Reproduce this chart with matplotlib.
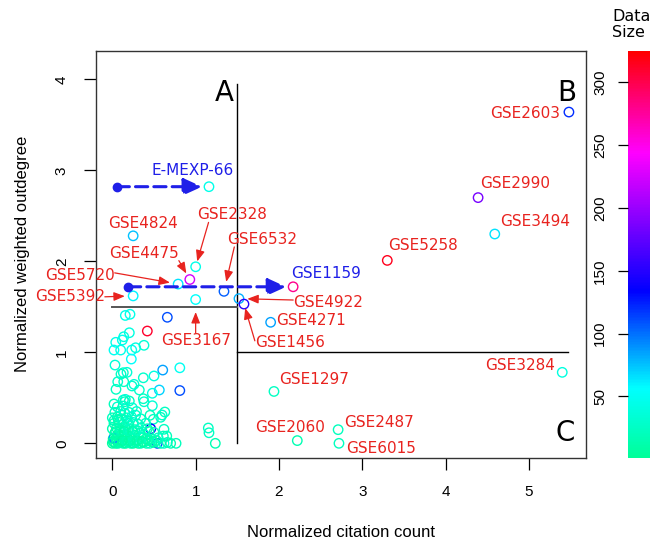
"""Citation count vs weighted outdegree scatter, coloured by data size."""

import matplotlib

matplotlib.use("Agg")
import matplotlib.pyplot as plt
from matplotlib.cm import ScalarMappable
from matplotlib.colors import LinearSegmentedColormap, Normalize

# labelled datasets
named_ids = [
    "GSE2603", "GSE2990", "GSE3494", "GSE5258", "GSE1159", "E-MEXP-66",
    "GSE4824", "GSE2328", "GSE4475", "GSE5720", "GSE5392", "GSE6532",
    "GSE3167", "GSE4922", "GSE1456", "GSE4271", "GSE1297", "GSE2060",
    "GSE2487", "GSE6015", "GSE3284",
]
named_citation = [5.48, 4.39, 4.59, 3.30, 2.17, 1.16, 0.25, 1.00, 0.93, 0.79, 0.25,
                  1.34, 1.00, 1.52, 1.58, 1.90, 1.94, 2.22, 2.71, 2.72, 5.40]
named_outdegree = [3.64, 2.70, 2.30, 2.01, 1.72, 2.82, 2.28, 1.94, 1.80, 1.75, 1.62,
                   1.67, 1.58, 1.59, 1.53, 1.33, 0.57, 0.03, 0.15, 0.00, 0.78]
named_size = [120, 185, 65, 315, 280, 45, 75, 45, 225, 65, 60,
              105, 55, 80, 150, 85, 25, 15, 22, 22, 40]

# datasets shown with their earlier position (dashed arrows)
moved_ids = ["E-MEXP-66", "GSE1159"]
moved_from_citation = [0.058, 0.194]

# unlabelled datasets
other_citation = [
    0.156, 0.212, 0.66, 0.42, 0.204, 0.137, 0.12, 0.041, 0.02, 0.10, 0.233, 0.28,
    0.228, 0.38, 0.032, 0.132, 0.176, 0.104, 0.605, 0.81, 0.50, 0.372, 0.065, 0.137,
    0.236, 0.26, 0.324, 0.564, 0.81, 0.044, 0.48, 0.132, 0.156, 0.149, 0.204, 0.02,
    0.372, 0.38, 0.48, 0.63, 0.597, 0.58, 0.452, 0.492, 0.461, 0.62, 0.612, 0.653,
    0.765, 1.152, 1.16, 1.236, 0.54,
    0.00, 0.02, 0.04, 0.07, 0.10, 0.13, 0.16, 0.19, 0.22, 0.25, 0.28, 0.31, 0.34,
    0.37, 0.41, 0.45, 0.50, 0.58, 0.62, 0.66, 0.70,
    0.01, 0.05, 0.09, 0.14, 0.18, 0.23, 0.29, 0.35, 0.40, 0.47, 0.55, 0.02,
    0.03, 0.07, 0.12, 0.16, 0.21, 0.26, 0.33, 0.38, 0.50,
    0.00, 0.05, 0.10, 0.15, 0.20, 0.27, 0.35, 0.42,
    0.02, 0.08, 0.13, 0.19, 0.25, 0.31, 0.40,
    0.00, 0.06, 0.11, 0.17, 0.23, 0.34,
    0.03, 0.10, 0.15, 0.20, 0.29,
    0.06, 0.13, 0.24,
    0.01, 0.05, 0.08, 0.12, 0.17, 0.21, 0.26, 0.30, 0.36, 0.43, 0.48, 0.53,
    0.04, 0.09, 0.14, 0.19, 0.24, 0.30, 0.44,
    0.02, 0.07, 0.18, 0.28,
]
other_outdegree = [
    1.405, 1.418, 1.385, 1.234, 1.215, 1.171, 1.135, 1.11, 1.025, 1.025, 1.025, 1.05,
    0.926, 1.077, 0.86, 0.776, 0.78, 0.76, 0.805, 0.83, 0.74, 0.72, 0.677, 0.677,
    0.63, 0.648, 0.586, 0.586, 0.58, 0.593, 0.55, 0.476, 0.483, 0.457, 0.465, 0.432,
    0.49, 0.457, 0.413, 0.344, 0.311, 0.286, 0.308, 0.264, 0.16, 0.154, 0.08, 0.08,
    0.0, 0.168, 0.116, 0.0, 0.0,
    0.00, 0.01, 0.00, 0.00, 0.01, 0.00, 0.00, 0.01, 0.00, 0.00, 0.01, 0.00, 0.00,
    0.01, 0.00, 0.00, 0.01, 0.00, 0.00, 0.01, 0.00,
    0.05, 0.06, 0.04, 0.05, 0.06, 0.05, 0.04, 0.06, 0.05, 0.05, 0.06, 0.06,
    0.11, 0.10, 0.12, 0.10, 0.11, 0.09, 0.11, 0.10, 0.12,
    0.16, 0.17, 0.15, 0.17, 0.16, 0.15, 0.17, 0.16,
    0.22, 0.23, 0.21, 0.22, 0.23, 0.21, 0.22,
    0.28, 0.29, 0.27, 0.28, 0.29, 0.27,
    0.34, 0.35, 0.33, 0.34, 0.35,
    0.40, 0.41, 0.39,
    0.02, 0.03, 0.02, 0.03, 0.02, 0.03, 0.02, 0.03, 0.02, 0.03, 0.02, 0.03,
    0.13, 0.14, 0.13, 0.14, 0.13, 0.14, 0.13,
    0.25, 0.26, 0.25, 0.31,
]
other_size = [
    45, 45, 110, 310, 40, 40, 45, 45, 50, 45, 50, 40,
    55, 35, 35, 30, 35, 25, 85, 50, 40, 30, 30, 25,
    30, 35, 30, 70, 110, 25, 40, 30, 35, 25, 25, 20,
    25, 30, 35, 25, 30, 25, 20, 25, 135, 25, 20, 20,
    20, 25, 25, 15, 110,
    8, 12, 6, 15, 10, 18, 7, 12, 20, 9, 14, 6, 22,
    11, 16, 25, 13, 18, 30, 20, 15,
    10, 14, 8, 20, 11, 16, 9, 24, 13, 19, 28, 90,
    12, 7, 18, 10, 22, 14, 17, 26, 21,
    15, 9, 20, 12, 25, 16, 28, 19,
    18, 11, 24, 15, 30, 20, 27,
    22, 14, 26, 19, 32, 24,
    25, 18, 30, 22, 28,
    30, 24, 34,
    6, 9, 12, 5, 14, 8, 17, 10, 7, 13, 11, 16,
    10, 15, 8, 19, 12, 22, 14,
    20, 16, 23, 27,
]

size_min, size_max = 1, 325
colorbar_ticks = [50, 100, 150, 200, 250, 300]

# label placement: text centre (data units), arrow start on text box, shrink at point
label_place = {
    "GSE2603": (4.95, 3.62, None), "GSE2990": (4.84, 2.85, None),
    "GSE3494": (5.07, 2.44, None), "GSE5258": (3.73, 2.17, None),
    "GSE1159": (2.57, 1.87, None), "E-MEXP-66": (0.96, 3.00, None),
    "GSE4824": (0.37, 2.42, None), "GSE4271": (2.38, 1.355, None),
    "GSE1297": (2.42, 0.70, None), "GSE2060": (2.13, 0.17, None),
    "GSE2487": (3.20, 0.226, None), "GSE6015": (3.22, -0.055, None),
    "GSE3284": (4.89, 0.86, None),
    "GSE2328": (1.44, 2.51, (0.16, 0.0, 4)), "GSE4475": (0.38, 2.09, (1.0, 0.0, 5)),
    "GSE6532": (1.80, 2.24, (0.1, 0.0, 7)), "GSE5720": (-0.39, 1.84, (1.0, 0.7, 6)),
    "GSE5392": (-0.51, 1.61, (1.0, 0.5, 6)), "GSE4922": (2.59, 1.55, (0.0, 0.65, 6)),
    "GSE1456": (2.13, 1.11, (0.0, 0.6, 3)), "GSE3167": (1.0, 1.13, (0.5, 1.0, 9)),
}

cmap = LinearSegmentedColormap.from_list(
    "datasize",
    [(0.0, (0.0, 1.0, 0.6)), (0.17, (0.0, 1.0, 1.0)), (0.41, (0.0, 0.0, 1.0)),
     (0.75, (1.0, 0.0, 1.0)), (1.0, (1.0, 0.0, 0.0))],
)
norm = Normalize(vmin=size_min, vmax=size_max)

RED = "#e8231f"
BLUE = "#1f1fe8"
TICK_FONT = "Liberation Sans"
LABEL_FONT = "DejaVu Sans"

fig = plt.figure(figsize=(6.52, 5.42), dpi=100)
ax = fig.add_axes([96 / 652, 1 - 457.7 / 542, 490 / 652, 406.7 / 542])

# quadrant guides
ax.plot([1.5, 1.5], [0, 3.95], color="black", lw=1.0)
ax.plot([1.5, 5.47], [1.0, 1.0], color="black", lw=1.0)
ax.plot([0.0, 1.5], [1.5, 1.5], color="#555555", lw=1.4)
for letter, lx, ly in [("A", 1.34, 3.85), ("B", 5.46, 3.85), ("C", 5.43, 0.11)]:
    ax.text(lx, ly, letter, fontsize=20, family=LABEL_FONT, ha="center", va="center")

ax.scatter(other_citation, other_outdegree, s=46, facecolors="none",
           edgecolors=cmap(norm(other_size)), linewidths=1.0, zorder=3)
ax.scatter(named_citation, named_outdegree, s=46, facecolors="none",
           edgecolors=cmap(norm(named_size)), linewidths=1.0, zorder=3)

# moved datasets: dot at old position, dashed arrow to new one
for name, old_x in zip(moved_ids, moved_from_citation):
    i = named_ids.index(name)
    new_x, new_y = named_citation[i], named_outdegree[i]
    ax.plot(old_x, new_y, "o", color=BLUE, ms=6, zorder=4)
    ax.annotate(
        "", xy=(new_x, new_y), xytext=(old_x, new_y),
        arrowprops=dict(arrowstyle="-|>,head_length=0.55,head_width=0.25",
                        mutation_scale=20, color=BLUE, lw=2.2,
                        linestyle=(0, (4, 2)), shrinkA=0, shrinkB=5),
        zorder=4,
    )

for name, px, py in zip(named_ids, named_citation, named_outdegree):
    tx, ty, arrow = label_place[name]
    color = BLUE if name in moved_ids else RED
    if arrow is None:
        ax.text(tx, ty, name, color=color, fontsize=11, family=LABEL_FONT,
                ha="center", va="center", clip_on=False)
    else:
        rx, ry, shrink = arrow
        ax.annotate(
            name, xy=(px, py), xytext=(tx, ty), color=color, fontsize=11,
            family=LABEL_FONT, ha="center", va="center", annotation_clip=False,
            arrowprops=dict(arrowstyle="-|>,head_length=0.55,head_width=0.22",
                            mutation_scale=12, color=color, lw=0.9,
                            relpos=(rx, ry), patchA=None, shrinkA=0,
                            shrinkB=shrink),
        )

ax.set_xlim(-0.196, 5.685)
ax.set_ylim(-0.158, 4.311)
ax.set_xticks([0, 1, 2, 3, 4, 5])
ax.set_yticks([0, 1, 2, 3, 4])
ax.tick_params(length=8.5, width=0.9, labelsize=11, pad=11)
for lab in ax.get_xticklabels():
    lab.set_family(TICK_FONT)
for lab in ax.get_yticklabels():
    lab.set_family(TICK_FONT)
    lab.set_rotation(90)
    lab.set_va("center")
for sp in ax.spines.values():
    sp.set_linewidth(1.0)
    sp.set_color("#333333")
ax.set_xlabel("Normalized citation count", fontsize=12, family=TICK_FONT, labelpad=19)
ax.set_ylabel("Normalized weighted outdegree", fontsize=12, family=TICK_FONT,
              labelpad=18)

# colour key for data size
cax = fig.add_axes([628 / 652, 1 - 458 / 542, 22 / 652, 407 / 542])
cb = fig.colorbar(ScalarMappable(norm=norm, cmap=cmap), cax=cax)
cb.outline.set_visible(False)
cb.set_ticks(colorbar_ticks)
cax.yaxis.set_ticks_position("left")
cax.tick_params(length=7, width=0.9, labelsize=11, pad=8)
for lab in cax.get_yticklabels():
    lab.set_family(TICK_FONT)
    lab.set_rotation(90)
    lab.set_va("center")
fig.text(612 / 652, 1 - 9 / 542, "Data\nSize", fontsize=11.5, family=LABEL_FONT,
         ha="left", va="top", linespacing=1.1)

fig.savefig("out.png", dpi=100)
